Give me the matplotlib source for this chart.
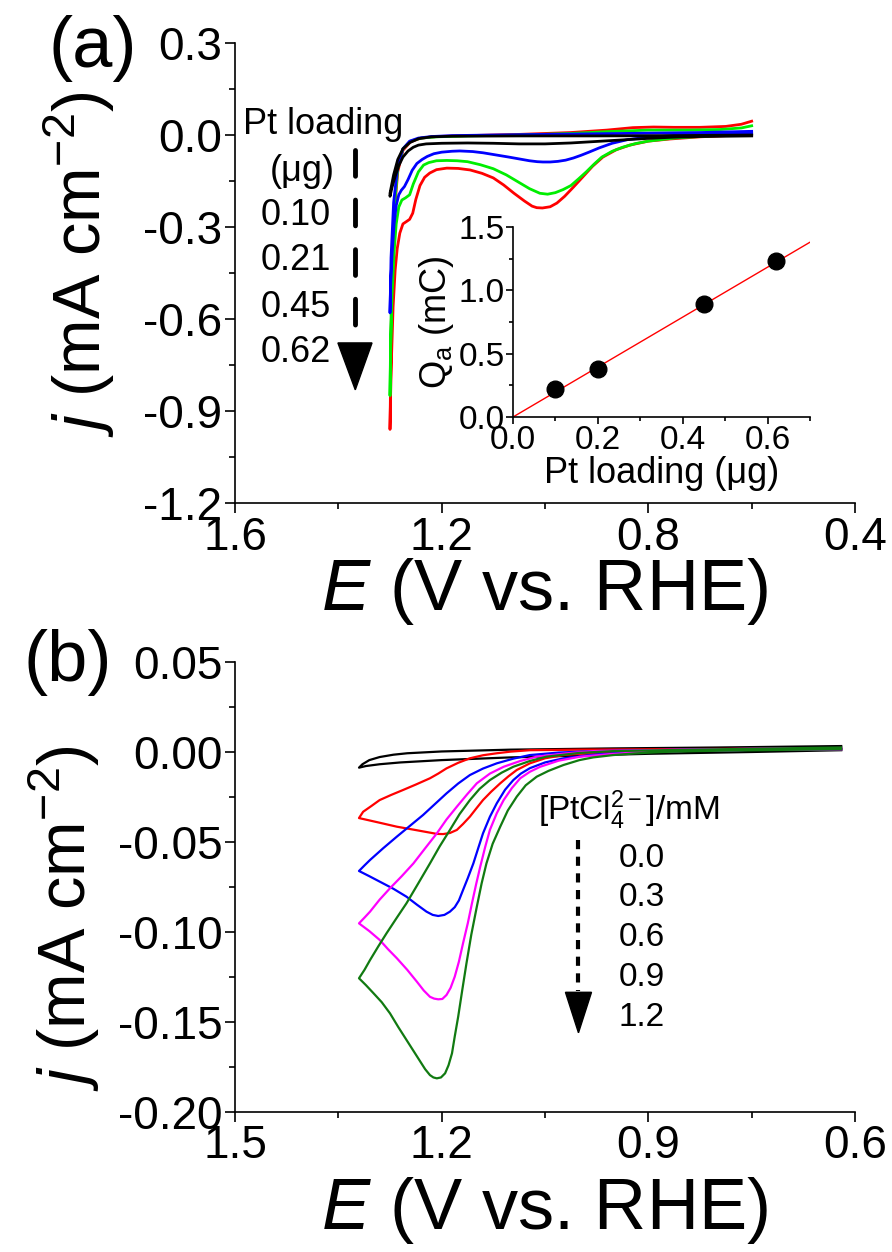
import matplotlib
matplotlib.use("Agg")
from matplotlib import pyplot as plt
from matplotlib.patches import Polygon
from matplotlib.ticker import MultipleLocator

plt.rcParams['font.family'] = ['Liberation Sans', 'DejaVu Sans']
plt.rcParams['mathtext.fontset'] = 'custom'
plt.rcParams['mathtext.rm'] = 'Liberation Sans'
plt.rcParams['mathtext.it'] = 'Liberation Sans:italic'
plt.rcParams['axes.unicode_minus'] = False

# ---- panel (a): CVs for different Pt loadings ----
loadings = ["0.10", "0.21", "0.45", "0.62"]

# red, 0.62 ug
Ea_red_up = [0.60, 0.62, 0.65, 0.70, 0.75, 0.79, 0.83, 0.88, 0.95, 1.05, 1.15, 1.21, 1.24, 1.26, 1.275, 1.285, 1.292, 1.297, 1.30]
ja_red_up = [0.045, 0.035, 0.028, 0.025, 0.025, 0.026, 0.024, 0.016, 0.008, 0.002, -0.002, -0.005, -0.010, -0.022, -0.05, -0.12, -0.26, -0.55, -0.96]
Ea_red_dn = [1.30, 1.299, 1.297, 1.294, 1.29, 1.286, 1.281, 1.275, 1.268, 1.262, 1.256, 1.25, 1.242, 1.233, 1.223, 1.21, 1.19,
             1.168, 1.145, 1.122, 1.10, 1.08, 1.06, 1.04, 1.025, 1.016, 1.005, 0.99, 0.977, 0.962, 0.945, 0.927, 0.908,
             0.888, 0.862, 0.836, 0.80, 0.758, 0.70, 0.65, 0.60]
ja_red_dn = [-0.96, -0.86, -0.72, -0.56, -0.44, -0.37, -0.32, -0.29, -0.282, -0.275, -0.255, -0.21, -0.165, -0.138, -0.124, -0.113, -0.108,
             -0.109, -0.114, -0.125, -0.14, -0.163, -0.19, -0.215, -0.232, -0.237, -0.238, -0.234, -0.222, -0.2, -0.17, -0.137, -0.102,
             -0.072, -0.048, -0.033, -0.02, -0.013, -0.006, -0.002, 0.0]

# green, 0.45 ug
Ea_grn_up = [0.60, 0.62, 0.66, 0.72, 0.80, 0.88, 0.95, 1.05, 1.15, 1.21, 1.24, 1.26, 1.275, 1.285, 1.292, 1.297, 1.30]
ja_grn_up = [0.03, 0.023, 0.018, 0.016, 0.016, 0.011, 0.005, 0.0, -0.003, -0.006, -0.010, -0.02, -0.045, -0.11, -0.24, -0.48, -0.85]
Ea_grn_dn = [1.30, 1.299, 1.296, 1.292, 1.288, 1.283, 1.277, 1.27, 1.262, 1.255, 1.245, 1.235, 1.225, 1.21, 1.19, 1.17, 1.15,
             1.125, 1.10, 1.075, 1.05, 1.03, 1.01, 0.995, 0.98, 0.965, 0.95, 0.935, 0.92, 0.905, 0.89, 0.87, 0.85,
             0.825, 0.80, 0.75, 0.70, 0.65, 0.60]
ja_grn_dn = [-0.85, -0.70, -0.52, -0.38, -0.29, -0.235, -0.212, -0.205, -0.195, -0.16, -0.12, -0.098, -0.09, -0.084, -0.083, -0.084, -0.087,
             -0.097, -0.11, -0.13, -0.155, -0.175, -0.19, -0.193, -0.188, -0.178, -0.165, -0.143, -0.12, -0.095, -0.072, -0.053, -0.04,
             -0.028, -0.02, -0.01, -0.005, 0.0, 0.005]

# blue, 0.21 ug
Ea_blu_up = [0.60, 0.70, 0.80, 0.90, 1.00, 1.10, 1.18, 1.22, 1.245, 1.262, 1.275, 1.285, 1.293, 1.298, 1.30]
ja_blu_up = [0.012, 0.008, 0.006, 0.004, 0.002, 0.0, -0.002, -0.005, -0.01, -0.02, -0.045, -0.10, -0.22, -0.40, -0.58]
Ea_blu_dn = [1.30, 1.299, 1.296, 1.292, 1.288, 1.283, 1.278, 1.272, 1.265, 1.257, 1.248, 1.238, 1.228, 1.215, 1.20, 1.18, 1.165,
             1.14, 1.12, 1.095, 1.07, 1.05, 1.03, 1.015, 1.004, 0.99, 0.975, 0.96, 0.945, 0.93, 0.915, 0.895, 0.87,
             0.84, 0.80, 0.75, 0.70, 0.60]
ja_blu_dn = [-0.58, -0.50, -0.39, -0.29, -0.23, -0.195, -0.18, -0.168, -0.145, -0.115, -0.093, -0.08, -0.07, -0.061, -0.056, -0.053, -0.052,
             -0.054, -0.058, -0.065, -0.072, -0.078, -0.084, -0.087, -0.088, -0.088, -0.086, -0.082, -0.075, -0.066, -0.056, -0.042, -0.027,
             -0.015, -0.007, -0.002, 0.0, 0.005]

# black, 0.10 ug
Ea_blk_up = [0.60, 0.75, 0.90, 1.05, 1.18, 1.22, 1.245, 1.262, 1.275, 1.285, 1.293, 1.30]
ja_blk_up = [0.0, -0.002, -0.003, -0.003, -0.004, -0.006, -0.012, -0.025, -0.045, -0.08, -0.13, -0.19]
Ea_blk_dn = [1.30, 1.296, 1.29, 1.283, 1.275, 1.265, 1.255, 1.245, 1.23, 1.20, 1.15, 1.10, 1.05, 1.00, 0.95, 0.90,
             0.85, 0.80, 0.75, 0.70, 0.60]
ja_blk_dn = [-0.20, -0.17, -0.135, -0.10, -0.072, -0.052, -0.04, -0.033, -0.029, -0.027, -0.026, -0.027, -0.029, -0.029, -0.026, -0.021,
             -0.016, -0.011, -0.007, -0.005, -0.003]

# inset: charge vs Pt loading
pt_load = [0.10, 0.20, 0.45, 0.62]
q_a = [0.22, 0.38, 0.89, 1.23]
fit_x = [0.0, 0.7]
fit_y = [0.0, 1.38]

# ---- panel (b): CVs for different PtCl4 2- concentrations ----
conc = ["0.0", "0.3", "0.6", "0.9", "1.2"]

Eb_0 = [0.62, 0.75, 0.90, 1.00, 1.10, 1.20, 1.26, 1.29, 1.31, 1.32,
        1.315, 1.305, 1.29, 1.27, 1.25, 1.20, 1.10, 0.95, 0.80, 0.62]
jb_0 = [0.001, 0.0, -0.001, -0.002, -0.003, -0.0045, -0.0058, -0.0068, -0.0078, -0.0087,
        -0.0068, -0.0045, -0.0028, -0.0015, -0.0007, 0.0003, 0.0013, 0.002, 0.0025, 0.0033]

Eb_3 = [0.62, 0.75, 0.879, 0.95, 1.0, 1.023, 1.05, 1.072, 1.091, 1.103, 1.115, 1.128, 1.140, 1.150, 1.159, 1.169, 1.178,
        1.188, 1.198, 1.207, 1.217, 1.24, 1.265, 1.29, 1.305, 1.32,
        1.314, 1.302, 1.290, 1.273, 1.256, 1.237, 1.217, 1.205, 1.193, 1.176, 1.159, 1.140, 1.120, 1.10, 1.072,
        1.0, 0.90, 0.75, 0.62]
jb_3 = [0.0015, 0.0013, 0.001, 0.0, -0.0010, -0.0017, -0.0035, -0.0063, -0.010, -0.0135, -0.0174, -0.022, -0.0267, -0.0315, -0.0359, -0.040, -0.0433,
        -0.0450, -0.0456, -0.0455, -0.0448, -0.0432, -0.0415, -0.0393, -0.038, -0.0367,
        -0.0332, -0.030, -0.0267, -0.0238, -0.0211, -0.018, -0.0146, -0.012, -0.0091, -0.006, -0.0035, -0.0018, -0.0007, 0.0002, 0.001,
        0.0013, 0.0015, 0.0018, 0.002]

Eb_6 = [0.62, 0.75, 0.85, 0.926, 0.98, 1.023, 1.05, 1.072, 1.085, 1.096, 1.108, 1.120, 1.130, 1.140, 1.147, 1.154, 1.162,
        1.169, 1.175, 1.181, 1.188, 1.196, 1.205, 1.213, 1.222, 1.236, 1.251, 1.27, 1.290, 1.305, 1.32,
        1.312, 1.304, 1.285, 1.265, 1.246, 1.227, 1.210, 1.193, 1.176, 1.159, 1.140, 1.120, 1.096, 1.072, 1.03,
        0.98, 0.85, 0.75, 0.62]
jb_6 = [0.0015, 0.0012, 0.0006, 0.0, -0.0015, -0.0035, -0.0058, -0.009, -0.012, -0.0156, -0.021, -0.0285, -0.036, -0.0452, -0.0535, -0.0619, -0.070,
        -0.0767, -0.0825, -0.0862, -0.0887, -0.0905, -0.0911, -0.0905, -0.0887, -0.0848, -0.0804, -0.076, -0.072, -0.069, -0.0661,
        -0.063, -0.060, -0.0535, -0.047, -0.041, -0.035, -0.029, -0.023, -0.0175, -0.0128, -0.0092, -0.0063, -0.0037, -0.0017, -0.0003,
        0.0005, 0.0013, 0.0017, 0.002]

Eb_9 = [0.62, 0.75, 0.85, 0.906, 0.95, 0.999, 1.03, 1.057, 1.072, 1.086, 1.098, 1.110, 1.120, 1.130, 1.137, 1.144, 1.150, 1.156,
        1.162, 1.169, 1.175, 1.181, 1.187, 1.193, 1.199, 1.205, 1.211, 1.217, 1.226, 1.236, 1.250, 1.265, 1.278, 1.290, 1.305, 1.32,
        1.312, 1.304, 1.290, 1.275, 1.258, 1.241, 1.224, 1.207, 1.193, 1.178, 1.163, 1.149, 1.130, 1.110, 1.086, 1.062,
        1.02, 0.98, 0.85, 0.75, 0.62]
jb_9 = [0.0015, 0.0012, 0.0006, 0.0, -0.0010, -0.0026, -0.0048, -0.0082, -0.011, -0.0146, -0.020, -0.0267, -0.034, -0.0433, -0.053, -0.0637, -0.0735, -0.084,
        -0.095, -0.1063, -0.1165, -0.1248, -0.131, -0.135, -0.1372, -0.1374, -0.137, -0.136, -0.1325, -0.1276, -0.121, -0.1146, -0.1095, -0.1044, -0.0995, -0.0952,
        -0.092, -0.0887, -0.082, -0.0757, -0.069, -0.0619, -0.0535, -0.0452, -0.0375, -0.0304, -0.0235, -0.0174, -0.0120, -0.0082, -0.0050, -0.0026,
        -0.0008, 0.0005, 0.0013, 0.0018, 0.0022]

Eb_12 = [0.62, 0.70, 0.78, 0.83, 0.88, 0.92, 0.951, 0.98, 1.00, 1.023, 1.045, 1.062, 1.078, 1.091, 1.104, 1.115, 1.126, 1.135,
         1.142, 1.149, 1.157, 1.164, 1.170, 1.176, 1.181, 1.185, 1.190, 1.195, 1.201, 1.207, 1.212, 1.217, 1.224, 1.231, 1.241,
         1.251, 1.263, 1.275, 1.287, 1.299, 1.31, 1.32,
         1.312, 1.304, 1.292, 1.280, 1.265, 1.251, 1.234, 1.217, 1.203, 1.188, 1.174, 1.159, 1.145, 1.130, 1.113, 1.096,
         1.072, 1.048, 1.00, 0.951, 0.85, 0.75, 0.62]
jb_12 = [0.0015, 0.0012, 0.0008, 0.0005, 0.0, -0.0008, -0.0017, -0.003, -0.0045, -0.0072, -0.0105, -0.0137, -0.0185, -0.0248, -0.0325, -0.0415, -0.051, -0.0619,
         -0.073, -0.086, -0.1015, -0.1174, -0.132, -0.147, -0.158, -0.1674, -0.174, -0.1785, -0.1808, -0.1813, -0.1808, -0.1795, -0.1762, -0.172, -0.166,
         -0.160, -0.1528, -0.1452, -0.139, -0.134, -0.1295, -0.1257,
         -0.121, -0.1156, -0.108, -0.1007, -0.092, -0.084, -0.073, -0.0619, -0.0525, -0.0433, -0.0345, -0.0267, -0.0205, -0.0156, -0.0115, -0.0082,
         -0.0050, -0.0026, -0.0005, 0.0005, 0.0012, 0.0018, 0.0025]

W, H = 892, 1252
fig = plt.figure(figsize=(W / 100, H / 100), dpi=100)


def style_axes(ax, major_len=7, minor_len=4, size=33):
    for s in ["top", "right"]:
        ax.spines[s].set_visible(False)
    for s in ["left", "bottom"]:
        ax.spines[s].set_linewidth(1.2)
    ax.tick_params(which="major", direction="out", length=major_len, width=1.2, labelsize=size, pad=2)
    ax.tick_params(which="minor", direction="out", length=minor_len, width=1.2)


# ---- panel (a) ----
ax_a = fig.add_axes([235 / W, 1 - 503 / H, 620 / W, 460 / H])
ax_a.plot(Ea_red_up + Ea_red_dn, ja_red_up + ja_red_dn, color="#ff0000", lw=2)
ax_a.plot(Ea_grn_up + Ea_grn_dn, ja_grn_up + ja_grn_dn, color="#00ee00", lw=2)
ax_a.plot(Ea_blu_up + Ea_blu_dn, ja_blu_up + ja_blu_dn, color="#0000ff", lw=2)
ax_a.plot(Ea_blk_up + Ea_blk_dn, ja_blk_up + ja_blk_dn, color="black", lw=2)
ax_a.set_xlim(1.6, 0.4)
ax_a.set_ylim(-1.2, 0.3)
ax_a.set_xticks([1.6, 1.2, 0.8, 0.4])
ax_a.set_yticks([0.3, 0.0, -0.3, -0.6, -0.9, -1.2])
ax_a.xaxis.set_minor_locator(MultipleLocator(0.2))
ax_a.yaxis.set_minor_locator(MultipleLocator(0.15))
style_axes(ax_a)
ax_a.set_xlabel(r"$E$ (V vs. RHE)", fontsize=52)
ax_a.xaxis.set_label_coords(0.5, -0.115)
ax_a.set_ylabel(r"$j$ (mA cm$^{-2}$)", fontsize=48)
ax_a.yaxis.set_label_coords(-0.19, 0.52)

ax_a.text(0.142, 0.822, "Pt loading", transform=ax_a.transAxes, fontsize=26, ha="center", va="center")
ax_a.text(0.108, 0.72, "(\u03bcg)", transform=ax_a.transAxes, fontsize=26, ha="center", va="center")
for lab, yy in zip(loadings, [0.626, 0.528, 0.426, 0.328]):
    ax_a.text(0.098, yy, lab, transform=ax_a.transAxes, fontsize=26, ha="center", va="center")
ax_a.plot([0.194, 0.194], [0.767, 0.36], transform=ax_a.transAxes, color="black",
          lw=3.5, dashes=(5.3, 4.9), dash_capstyle="round")
ax_a.add_patch(Polygon([[0.166, 0.348], [0.221, 0.348], [0.194, 0.246]], closed=True,
                       transform=ax_a.transAxes, color="black"))

# ---- inset ----
ins = fig.add_axes([513 / W, 1 - 417 / H, 297 / W, 190 / H])
ins.patch.set_alpha(0)
ins.plot(fit_x, fit_y, color="#ff0000", lw=1)
ins.plot(pt_load, q_a, "o", color="black", ms=12)
ins.set_xlim(0, 0.7)
ins.set_ylim(0, 1.5)
ins.set_xticks([0.0, 0.2, 0.4, 0.6])
ins.set_yticks([0.0, 0.5, 1.0, 1.5])
ins.xaxis.set_minor_locator(MultipleLocator(0.1))
ins.yaxis.set_minor_locator(MultipleLocator(0.25))
style_axes(ins, major_len=5, minor_len=3, size=24)
ins.tick_params(pad=1)
ins.set_xlabel("Pt loading (\u03bcg)", fontsize=26, labelpad=0)
ins.set_ylabel(r"Q$_\mathrm{a}$ (mC)", fontsize=26, labelpad=2)

# ---- panel (b) ----
ax_b = fig.add_axes([235 / W, 1 - 1112 / H, 620 / W, 450 / H])
ax_b.plot(Eb_0, jb_0, color="black", lw=1.6)
ax_b.plot(Eb_3, jb_3, color="#ff0000", lw=1.6)
ax_b.plot(Eb_6, jb_6, color="#0000ff", lw=1.6)
ax_b.plot(Eb_9, jb_9, color="#ff00ff", lw=1.6)
ax_b.plot(Eb_12, jb_12, color="#117a11", lw=1.6)
ax_b.set_xlim(1.5, 0.6)
ax_b.set_ylim(-0.20, 0.05)
ax_b.set_xticks([1.5, 1.2, 0.9, 0.6])
ax_b.set_yticks([0.05, 0.0, -0.05, -0.10, -0.15, -0.20])
ax_b.set_yticklabels(["0.05", "0.00", "-0.05", "-0.10", "-0.15", "-0.20"])
ax_b.xaxis.set_minor_locator(MultipleLocator(0.15))
ax_b.yaxis.set_minor_locator(MultipleLocator(0.025))
style_axes(ax_b)
ax_b.set_xlabel(r"$E$ (V vs. RHE)", fontsize=52)
ax_b.xaxis.set_label_coords(0.5, -0.14)
ax_b.set_ylabel(r"$j$ (mA cm$^{-2}$)", fontsize=48)
ax_b.yaxis.set_label_coords(-0.215, 0.43)

ax_b.text(0.635, 0.671, r"[PtCl$_4^{2-}$]/mM", transform=ax_b.transAxes, fontsize=24, ha="center", va="center")
for lab, yy in zip(conc, [0.564, 0.476, 0.387, 0.298, 0.209]):
    ax_b.text(0.656, yy, lab, transform=ax_b.transAxes, fontsize=24, ha="center", va="center")
ax_b.plot([0.553, 0.553], [0.604, 0.27], transform=ax_b.transAxes, color="black",
          lw=3, dashes=(2.2, 1.8))
ax_b.add_patch(Polygon([[0.533, 0.266], [0.575, 0.266], [0.554, 0.176]], closed=True,
                       transform=ax_b.transAxes, color="black"))

fig.text(93 / W, 1 - 48 / H, "(a)", fontsize=52, ha="center", va="center")
fig.text(68 / W, 1 - 662 / H, "(b)", fontsize=52, ha="center", va="center")

fig.savefig("out.png", dpi=100)
